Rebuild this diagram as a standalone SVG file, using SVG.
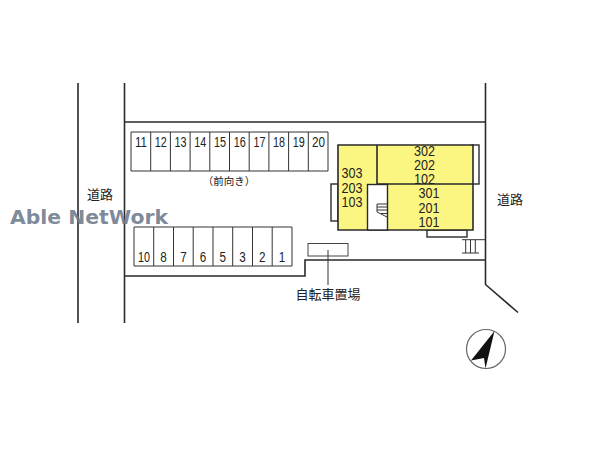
<svg xmlns="http://www.w3.org/2000/svg" width="600" height="450" viewBox="0 0 600 450">
<style>
text{font-family:"Liberation Sans","Noto Sans CJK JP",sans-serif;fill:#222;text-anchor:middle}
.jp{font-family:"Noto Sans CJK JP",sans-serif;font-size:13px}
.p{font-size:14px}
.b{font-size:15px}
.road{fill:none;stroke:#2a2a2a;stroke-width:1.6}
.thin{fill:none;stroke:#333;stroke-width:1}
.bl{fill:#fbf582;stroke:#2a2a2a;stroke-width:1.6}
.wh{fill:#fff;stroke:#2a2a2a;stroke-width:1.4}
</style>
<rect width="600" height="450" fill="#fff"/>
<g id="connectors">
<path class="road" d="M78 83V323M124.500 83V323M124.500 122H485.500M485.500 83V284.500L518 312.500M485.500 260H305V276H124.500"/>
<path class="thin" d="M328 250V285"/>
</g>
<g id="parking-top">
<path class="thin" d="M131 132H328V171H131ZM150.700 132V171M170.400 132V171M190.100 132V171M209.800 132V171M229.500 132V171M249.200 132V171M268.900 132V171M288.600 132V171M308.300 132V171"/>
<g class="p"><text x="141" y="147" textLength="12" lengthAdjust="spacingAndGlyphs">11</text><text x="160.800" y="147" textLength="12" lengthAdjust="spacingAndGlyphs">12</text><text x="180.500" y="147" textLength="12" lengthAdjust="spacingAndGlyphs">13</text><text x="200.200" y="147" textLength="12" lengthAdjust="spacingAndGlyphs">14</text><text x="220" y="147" textLength="12" lengthAdjust="spacingAndGlyphs">15</text><text x="239.700" y="147" textLength="12" lengthAdjust="spacingAndGlyphs">16</text><text x="259.400" y="147" textLength="12" lengthAdjust="spacingAndGlyphs">17</text><text x="279" y="147" textLength="12" lengthAdjust="spacingAndGlyphs">18</text><text x="298.800" y="147" textLength="12" lengthAdjust="spacingAndGlyphs">19</text><text x="318.500" y="147" textLength="13" lengthAdjust="spacingAndGlyphs">20</text></g>
<text class="jp" x="229" y="185" style="font-size:10.500px">（前向き）</text>
</g>
<g id="parking-bottom">
<path class="thin" d="M134 227H292V266H134ZM153.700 227V266M173.500 227V266M193.200 227V266M213 227V266M232.700 227V266M252.500 227V266M272.200 227V266"/>
<g class="p"><text x="144" y="262" textLength="12" lengthAdjust="spacingAndGlyphs">10</text><text x="163.600" y="262" textLength="6.500" lengthAdjust="spacingAndGlyphs">8</text><text x="183.400" y="262" textLength="6.500" lengthAdjust="spacingAndGlyphs">7</text><text x="203" y="262" textLength="6.500" lengthAdjust="spacingAndGlyphs">6</text><text x="222.800" y="262" textLength="6.500" lengthAdjust="spacingAndGlyphs">5</text><text x="242.600" y="262" textLength="6.500" lengthAdjust="spacingAndGlyphs">3</text><text x="262.300" y="262" textLength="6.500" lengthAdjust="spacingAndGlyphs">2</text><text x="282" y="262" textLength="6.500" lengthAdjust="spacingAndGlyphs">1</text></g>
</g>
<g id="building">
<rect class="wh" x="331" y="184" width="7" height="37"/>
<rect class="wh" x="472" y="145" width="7" height="39"/>
<rect class="wh" x="427" y="230" width="40" height="7"/>
<path class="bl" d="M338 145H473V230H338Z"/>
<path class="bl" style="fill:none" d="M377 145V184H473"/>
<rect x="367.500" y="184.500" width="20" height="45.500" fill="#fff" stroke="#2a2a2a" stroke-width="1.400"/>
<path class="thin" stroke-width="0.800" d="M387 204H377V212L387 217M377 207H387M377 210H387M381 213.500H387"/>
<g class="b"><text x="352" y="178" textLength="21" lengthAdjust="spacingAndGlyphs">303</text><text x="352" y="192.500" textLength="21" lengthAdjust="spacingAndGlyphs">203</text><text x="352" y="207" textLength="21" lengthAdjust="spacingAndGlyphs">103</text><text x="424.500" y="156" textLength="21" lengthAdjust="spacingAndGlyphs">302</text><text x="424.500" y="170" textLength="21" lengthAdjust="spacingAndGlyphs">202</text><text x="424.500" y="184" textLength="21" lengthAdjust="spacingAndGlyphs">102</text><text x="429" y="198" textLength="21" lengthAdjust="spacingAndGlyphs">301</text><text x="429" y="212.500" textLength="21" lengthAdjust="spacingAndGlyphs">201</text><text x="429" y="226.500" textLength="21" lengthAdjust="spacingAndGlyphs">101</text></g>
</g>
<g id="steps"><path class="thin" d="M462 239.700H485M465.700 240V253M470.500 240V253M475.300 240V253M462 253H479"/></g>
<g id="bicycle">
<rect x="308" y="243.500" width="40" height="12.500" fill="#fff" stroke="#444" stroke-width="1"/>
<path class="thin" d="M328 250V256"/>
<text class="jp" x="328" y="299">自転車置場</text>
</g>
<text class="jp" x="100" y="199">道路</text>
<text class="jp" x="510" y="204">道路</text>
<g id="north">
<circle cx="486" cy="349" r="19.500" fill="#fff" stroke="#666" stroke-width="1.200"/>
<path d="M494.500 331L471 360.500L484 358L485.500 368.500Z" fill="#111"/>
</g>
<text x="89" y="224" textLength="158" lengthAdjust="spacingAndGlyphs" style="font-family:'DejaVu Sans',sans-serif;font-weight:bold;font-size:19px;fill:#6d7a8c" fill-opacity="0.900">Able NetWork</text>
</svg>
